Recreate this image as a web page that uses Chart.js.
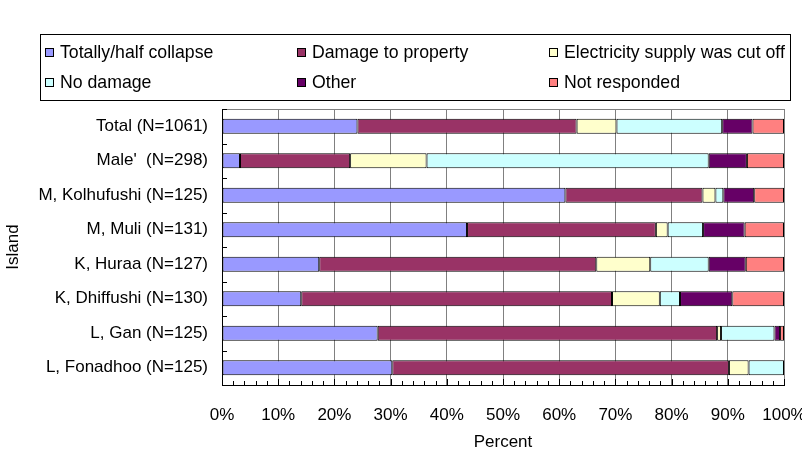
<!DOCTYPE html>
<html>
<head>
<meta charset="utf-8">
<script src="https://cdn.jsdelivr.net/npm/chart.js@4/dist/chart.umd.min.js"></script>
<style>
  html, body { margin: 0; padding: 0; background: #ffffff; }
  #c { display: block; }
</style>
</head>
<body>
<canvas id="c" width="802" height="455"></canvas>
<script>
// Survey: damage reported per island, share of respondents (%)
const islands = [
  "Total (N=1061)",
  "Male'  (N=298)",
  "M, Kolhufushi (N=125)",
  "M, Muli (N=131)",
  "K, Huraa (N=127)",
  "K, Dhiffushi (N=130)",
  "L, Gan (N=125)",
  "L, Fonadhoo (N=125)"
];
const seriesNames = [
  "Totally/half collapse",
  "Damage to property",
  "Electricity supply was cut off",
  "No damage",
  "Other",
  "Not responded"
];
const collapse    = [24.1,  3.2, 61.1, 43.6, 17.3, 14.1, 27.7, 30.3];
const property    = [39.0, 19.6, 24.4, 33.6, 49.3, 55.3, 60.4, 59.9];
const electricity = [ 7.1, 13.6,  2.3,  2.1,  9.6,  8.5,  0.7,  3.5];
const noDamage    = [18.8, 50.2,  1.4,  6.3, 10.4,  3.6,  9.5,  6.3];
const other       = [ 5.4,  6.8,  5.5,  7.4,  6.6,  9.3,  1.0,  0.0];
const notAnswered = [ 5.6,  6.6,  5.3,  7.0,  6.8,  9.2,  0.7,  0.0];
const percentTicks = [0, 10, 20, 30, 40, 50, 60, 70, 80, 90, 100];

const seriesValues = [collapse, property, electricity, noDamage, other, notAnswered];
const fills = ['#9999FF', '#993366', '#FFFFCC', '#CCFFFF', '#660066', '#FF8080'];

const FONT = "'Liberation Sans', Arial, sans-serif";

// Boxed three-column legend plus the small inside tick marks and frame
const decorations = {
  id: 'decorations',
  afterDatasetsDraw(chart) {
    const ctx = chart.ctx;
    const area = chart.chartArea;
    const xs = chart.scales.x;
    const ys = chart.scales.y;
    ctx.save();

    // top frame line of the plot
    ctx.strokeStyle = '#808080';
    ctx.lineWidth = 1;
    ctx.beginPath();
    ctx.moveTo(area.left, Math.round(area.top) + 0.5);
    ctx.lineTo(area.right, Math.round(area.top) + 0.5);
    ctx.stroke();

    // minor ticks every 2% along the bottom axis, pointing inwards
    ctx.strokeStyle = '#000000';
    ctx.beginPath();
    for (let v = 0; v <= 100; v += 2) {
      const px = Math.round(xs.getPixelForValue(v)) + 0.5;
      const len = (v % 10 === 0) ? 6 : 4;
      ctx.moveTo(px, area.bottom);
      ctx.lineTo(px, area.bottom - len);
    }
    ctx.stroke();

    // category boundary ticks on the left axis, pointing inwards
    ctx.beginPath();
    const n = islands.length;
    for (let i = 0; i <= n; i++) {
      let py;
      if (i === 0) py = area.top;
      else if (i === n) py = area.bottom;
      else py = (ys.getPixelForValue(i - 1) + ys.getPixelForValue(i)) / 2;
      py = Math.round(py) + 0.5;
      ctx.moveTo(area.left, py);
      ctx.lineTo(area.left + 5, py);
    }
    ctx.stroke();

    // legend box
    ctx.strokeStyle = '#000000';
    ctx.strokeRect(40.5, 34.5, 750, 66);
    ctx.font = '17.7px ' + FONT;
    ctx.textBaseline = 'middle';
    ctx.textAlign = 'left';
    const colX = [45, 297, 549];
    const rowY = [52, 82];
    chart.data.datasets.forEach((ds, i) => {
      const cx = colX[i % 3];
      const cy = rowY[Math.floor(i / 3)];
      ctx.fillStyle = ds.backgroundColor;
      ctx.fillRect(cx, cy - 4, 9, 9);
      ctx.strokeStyle = '#000000';
      ctx.strokeRect(cx + 0.5, cy - 3.5, 8, 8);
      ctx.fillStyle = '#000000';
      ctx.fillText(ds.label, cx + 15, cy + 1);
    });
    ctx.restore();
  }
};

new Chart(document.getElementById('c'), {
  type: 'bar',
  data: {
    labels: islands,
    datasets: seriesNames.map((name, i) => ({
      label: name,
      data: seriesValues[i],
      backgroundColor: fills[i],
      borderColor: '#000000',
      borderWidth: 1,
      borderSkipped: false,
      categoryPercentage: 1.0,
      barPercentage: 0.43
    }))
  },
  options: {
    indexAxis: 'y',
    responsive: false,
    animation: false,
    devicePixelRatio: 1,
    layout: { padding: { top: 109, right: 18, left: 0, bottom: 0 } },
    plugins: {
      legend: { display: false },
      tooltip: { enabled: false }
    },
    scales: {
      x: {
        stacked: true,
        min: 0,
        max: 100,
        afterFit(s) { s.height = 70; s.paddingLeft = 0; s.paddingRight = 0; },
        afterBuildTicks(s) { s.ticks = percentTicks.map(v => ({ value: v })); },
        ticks: {
          padding: 20,
          color: '#000000',
          font: { family: FONT, size: 17 },
          callback: v => v + '%'
        },
        grid: { color: '#808080', lineWidth: 1, drawTicks: false },
        border: { color: '#000000', width: 1 },
        title: {
          display: true,
          text: 'Percent',
          color: '#000000',
          font: { family: FONT, size: 17 },
          padding: { top: 0, bottom: 2 }
        }
      },
      y: {
        stacked: true,
        afterFit(s) { s.width = 222; s.paddingTop = 0; s.paddingBottom = 0; },
        ticks: {
          padding: 14,
          color: '#000000',
          font: { family: FONT, size: 17 }
        },
        grid: { display: false, drawTicks: false },
        border: { color: '#000000', width: 1 },
        title: {
          display: true,
          text: 'Island',
          color: '#000000',
          font: { family: FONT, size: 17 },
          padding: { top: 3, bottom: 0 }
        }
      }
    }
  },
  plugins: [decorations]
});
</script>
</body>
</html>
